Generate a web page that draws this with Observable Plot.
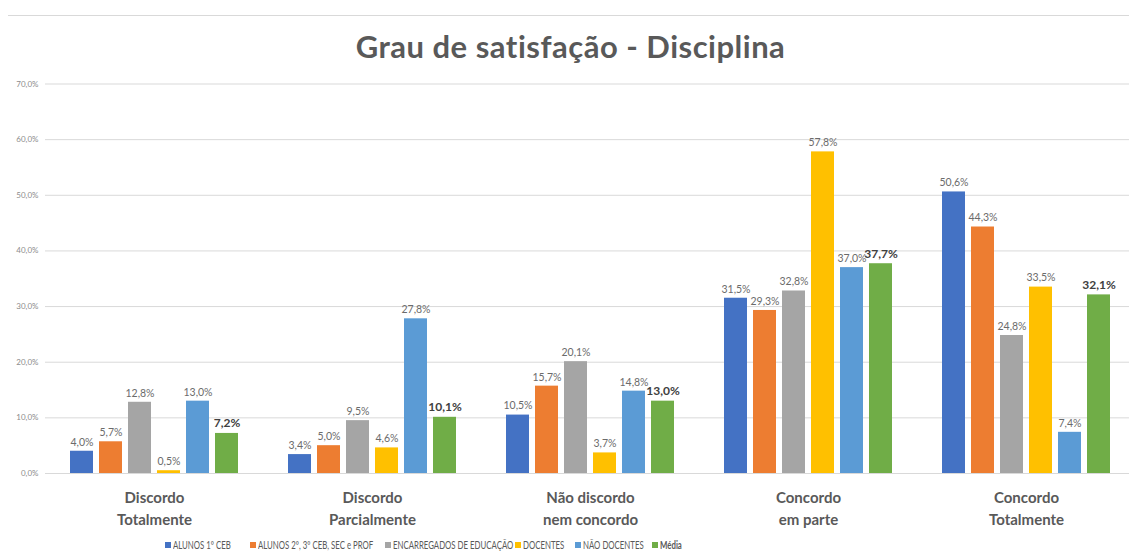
<!DOCTYPE html>
<html><head><meta charset="utf-8">
<script src="https://cdn.jsdelivr.net/npm/d3@7"></script>
<script src="https://cdn.jsdelivr.net/npm/@observablehq/plot@0.6"></script>
<style>
html,body{margin:0;padding:0;background:#fff;}
#wrap{position:relative;width:1129px;height:554px;overflow:hidden;font-family:Lato,"Open Sans",sans-serif;}
#topline{position:absolute;left:8px;right:0;top:15px;height:0;border-top:1px solid #d9d9d9;}
#title{position:absolute;left:6px;width:1129px;top:27px;text-align:center;font-size:31px;font-weight:700;color:#595959;letter-spacing:0.5px;}
#chart{position:absolute;left:0;top:70px;}
#legend{position:absolute;left:0;top:538px;width:1129px;font-size:11.5px;color:#595959;}
.li{position:absolute;white-space:nowrap;display:flex;align-items:center;}
.sw{display:inline-block;width:6px;height:6px;margin-right:2px;}
.lt{display:inline-block;transform:scaleX(0.68);transform-origin:left center;}
</style></head>
<body><div id="wrap"><div id="topline"></div><div id="title">Grau de satisfação - Disciplina</div><div id="chart"></div><div id="legend"></div></div>
<script>
const categories = ["Discordo\nTotalmente", "Discordo\nParcialmente", "Não discordo\nnem concordo", "Concordo\nem parte", "Concordo\nTotalmente"];
const seriesNames = ["ALUNOS 1º CEB", "ALUNOS 2º, 3º CEB, SEC e PROF", "ENCARREGADOS DE EDUCAÇÃO", "DOCENTES", "NÃO DOCENTES", "Média"];
const seriesColors = ["#4472C4", "#ED7D31", "#A5A5A5", "#FFC000", "#5B9BD5", "#70AD47"];
const alunos1 = [4.0, 3.4, 10.5, 31.5, 50.6];
const alunos2 = [5.7, 5.0, 15.7, 29.3, 44.3];
const encarregados = [12.8, 9.5, 20.1, 32.8, 24.8];
const docentes = [0.5, 4.6, 3.7, 57.8, 33.5];
const naoDocentes = [13.0, 27.8, 14.8, 37.0, 7.4];
const media = [7.2, 10.1, 13.0, 37.7, 32.1];
const yTicks = [0, 10, 20, 30, 40, 50, 60, 70];

const seriesValues = [alunos1, alunos2, encarregados, docentes, naoDocentes, media];
const data = [];
categories.forEach((c, i) => seriesNames.forEach((s, j) => data.push({cat: c, series: s, value: seriesValues[j][i]})));
const fmt = v => v.toFixed(1).replace(".", ",") + "%";

const chart = Plot.plot({
  width: 1129,
  height: 470,
  marginTop: 13.5,
  marginBottom: 67,
  marginLeft: 43,
  marginRight: 0,
  style: {fontFamily: "Lato, 'Open Sans', sans-serif", background: "transparent"},
  fx: {domain: categories, range: [43, 1136], paddingInner: 0, paddingOuter: 0, label: null},
  x: {domain: seriesNames, paddingInner: 0.22, paddingOuter: 0.84, axis: null},
  y: {domain: [0, 70], ticks: yTicks, label: null},
  color: {domain: seriesNames, range: seriesColors},
  marks: [
    Plot.gridY(yTicks, {stroke: "#d9d9d9", strokeOpacity: 1}),
    Plot.axisY(yTicks, {tickSize: 0, tickPadding: 7, tickFormat: fmt, fontSize: 8, fill: "#8c8c8c", label: null, facetAnchor: "left"}),
    Plot.axisFx({tickSize: 0, tickPadding: 14, fontSize: 15, fontWeight: 700, fill: "#595959", lineHeight: 1.45, label: null, anchor: "bottom"}),
    Plot.barY(data, {fx: "cat", x: "series", y: "value", fill: "series"}),
    Plot.text(data.filter(d => d.series !== "Média"), {fx: "cat", x: "series", y: "value", text: d => fmt(d.value), dy: -9, fontSize: 10.5, fill: "#6b6b6b"}),
    Plot.text(data.filter(d => d.series === "Média"), {fx: "cat", x: "series", y: "value", text: d => fmt(d.value), dy: -10, fontSize: 12, fontWeight: 700, fill: "#404040"})
  ]
});
document.getElementById("chart").appendChild(chart);

const legendX = [165, 250, 385, 515, 575, 652];
const legend = document.getElementById("legend");
seriesNames.forEach((s, j) => {
  const d = document.createElement("div");
  d.className = "li";
  d.style.left = legendX[j] + "px";
  const sw = document.createElement("span");
  sw.className = "sw"; sw.style.background = seriesColors[j];
  const t = document.createElement("span");
  t.className = "lt";
  t.textContent = s;
  if (s === "Média") t.style.fontWeight = "700";
  d.appendChild(sw); d.appendChild(t);
  legend.appendChild(d);
});
</script></body></html>
